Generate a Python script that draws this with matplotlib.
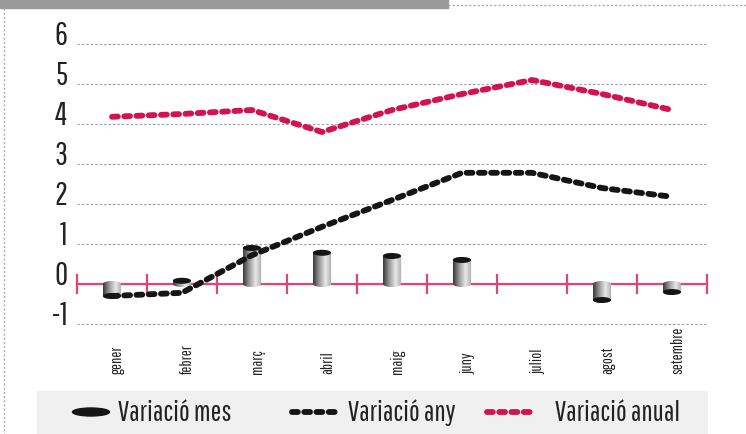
import numpy as np
import matplotlib
matplotlib.use("Agg")
from matplotlib import pyplot as plt
from matplotlib.colors import LinearSegmentedColormap
from matplotlib.patches import Ellipse, PathPatch, Rectangle
from matplotlib.path import Path
from matplotlib.lines import Line2D

plt.rcParams['font.family'] = ['Pathway Gothic One', 'Roboto Condensed', 'DejaVu Sans']

# data
mesos = ['gener', 'febrer', 'març', 'abril', 'maig', 'juny', 'juliol', 'agost', 'setembre']
variacio_mes = [-0.3, 0.08, 0.9, 0.78, 0.7, 0.6, 0.0, -0.4, -0.2]
variacio_any = [-0.3, -0.22, 0.72, 1.43, 2.1, 2.78, 2.78, 2.4, 2.18]
variacio_anual = [4.18, 4.25, 4.35, 3.8, 4.35, 4.75, 5.1, 4.75, 4.35]
y_ticks = [-1, 0, 1, 2, 3, 4, 5, 6]
legend_labels = ['Variació mes', 'Variació any', 'Variació anual']

RED = '#d3134f'
AXIS_RED = '#d8487a'
TXT = '#222222'
W, H = 746, 435

fig = plt.figure(figsize=(W / 100, H / 100), dpi=100)
ax = fig.add_axes([77 / W, 1 - 335 / H, 630 / W, 300 / H])

def fpx(x, y):
    return x / W, 1 - y / H

# frame decorations
fig.patches.append(Rectangle((0, 1 - 9 / H), 448 / W, 9 / H, transform=fig.transFigure,
                             color='#999999', zorder=0))
fig.lines.append(Line2D([448 / W, 1], [1 - 6 / H] * 2, transform=fig.transFigure,
                        color='#aaaaaa', lw=1, ls=(0, (1.5, 1.5))))
fig.lines.append(Line2D([4 / W] * 2, [1 - 9 / H, 0], transform=fig.transFigure,
                        color='#aaaaaa', lw=1, ls=(0, (1.5, 1.5))))

x = np.arange(len(mesos))

# grid and axis
ax.set_axisbelow(True)
ax.yaxis.grid(True, color='#999999', lw=0.8, ls=(0, (2, 2)))
for s in ['left', 'right', 'top']:
    ax.spines[s].set_visible(False)
ax.spines['bottom'].set_position(('data', 0))
ax.spines['bottom'].set_color(AXIS_RED)
ax.spines['bottom'].set_linewidth(1.6)
ax.set_xticks(np.arange(-0.5, len(mesos)), minor=True)
ax.set_xticks([])
ax.tick_params(axis='x', which='minor', direction='inout', length=14, width=1.6,
               color=AXIS_RED, labelbottom=False)
ax.set_yticks(y_ticks)
ax.set_yticklabels([str(v) for v in y_ticks], fontsize=23, color=TXT, va='baseline')
ax.tick_params(axis='y', length=0, pad=7)

# cylinders
cyl_cmap = LinearSegmentedColormap.from_list('cyl', ['#3a3a3a', '#9a9a9a', '#e8e8e8', '#aaaaaa'],
                                             N=256)
grad = np.linspace(0, 1, 64).reshape(1, -1)
bw, eh = 0.26, 0.075
t = np.linspace(0, np.pi, 40)
for xi, v in zip(x, variacio_mes):
    if v == 0:
        continue
    y0, y1 = min(0, v), max(0, v)
    top = np.column_stack([xi + bw / 2 * np.cos(t), y1 + eh * np.sin(t)])
    bot = np.column_stack([xi - bw / 2 * np.cos(t), y0 - eh * np.sin(t)])
    verts = np.vstack([top, bot, top[:1]])
    clip = PathPatch(Path(verts), facecolor='none', edgecolor='none')
    ax.add_patch(clip)
    im = ax.imshow(grad, extent=[xi - bw / 2, xi + bw / 2, y0 - eh, y1 + eh], cmap=cyl_cmap,
                   aspect='auto', interpolation='bilinear', zorder=3)
    im.set_clip_path(clip)
    ax.add_patch(Ellipse((xi, v), bw, 2 * eh, facecolor='#151515', edgecolor='none', zorder=3.2))

sausage = dict(lw=4.2, ls=(0, (1.0, 1.1)), dash_capstyle='round', solid_capstyle='round')
ax.plot(x, variacio_any, color='#151515', zorder=4, **sausage)
ax.plot(x, variacio_anual, color=RED, zorder=4, **sausage)

ax.set_xlim(-0.5, len(mesos) - 0.5)
ax.set_ylim(-1.25, 6.25)

for xi, m in zip(x, mesos):
    ax.text(xi + 0.08, -2.22, m, rotation=90, ha='center', va='bottom', fontsize=11.5,
            color=TXT, clip_on=False)

# legend
fig.patches.append(Rectangle(fpx(37, 435), 670 / W, 43 / H, transform=fig.transFigure,
                             color='#f0f0f0', zorder=0))
fig.patches.append(Ellipse(fpx(91, 413), 37 / W, 8 / H, transform=fig.transFigure,
                           color='#151515'))
for (xa, xb), c in [((292, 338), '#151515'), ((487, 533), RED)]:
    fig.lines.append(Line2D([xa / W, xb / W], [1 - 413 / H] * 2, transform=fig.transFigure,
                            color=c, **sausage))
for lx, lab in zip([118, 348, 555], legend_labels):
    fig.text(*fpx(lx, 413), lab, fontsize=20.5, color=TXT, va='center', ha='left')

fig.savefig('out.png', dpi=100)
